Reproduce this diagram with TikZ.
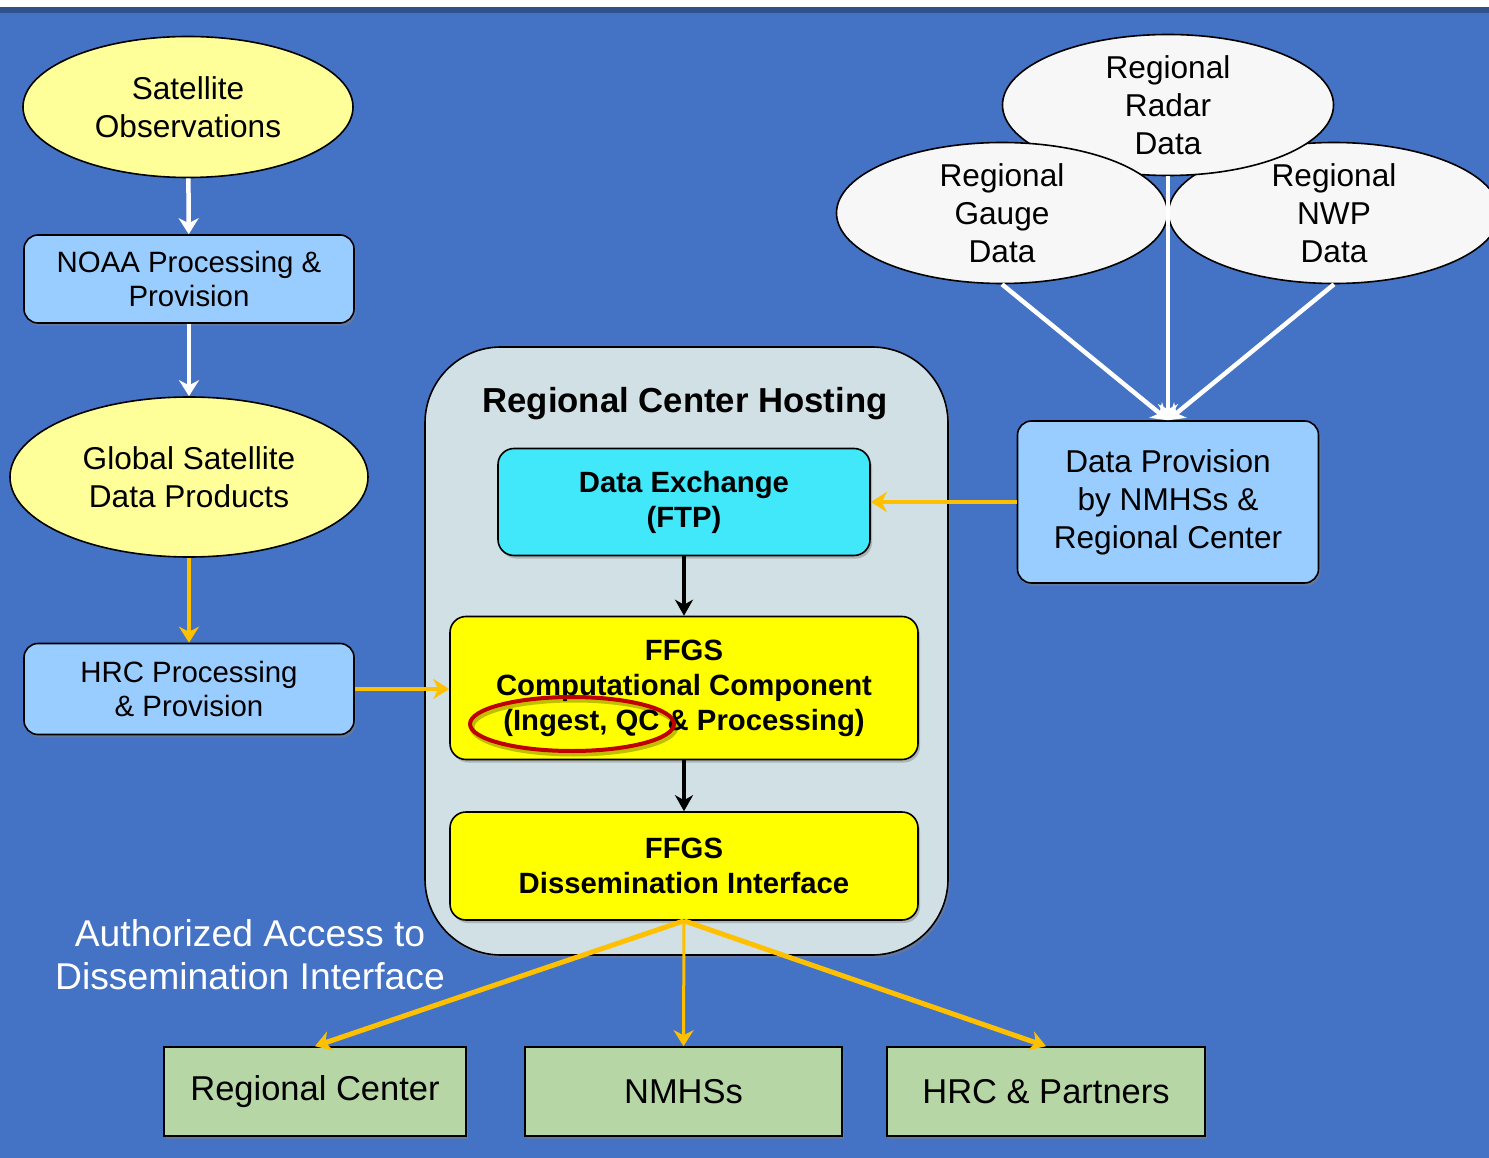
\documentclass[tikz,border=0pt]{standalone}
\usepackage{fontspec}
\setmainfont{Liberation Sans}
\usetikzlibrary{positioning,arrows.meta,shapes.geometric,shadows}
\definecolor{bgblue}{RGB}{68,114,196}
\definecolor{edgeblue}{RGB}{47,82,140}
\definecolor{satyellow}{RGB}{255,255,153}
\definecolor{procblue}{RGB}{153,204,255}
\definecolor{hostgray}{RGB}{209,224,228}
\definecolor{ftpcyan}{RGB}{64,232,250}
\definecolor{ffgsyellow}{RGB}{255,255,0}
\definecolor{flowgold}{RGB}{255,192,0}
\definecolor{usergreen}{RGB}{183,214,165}
\definecolor{datawhite}{RGB}{247,247,247}
\definecolor{markred}{RGB}{192,0,0}

\begin{document}
\begin{tikzpicture}[x=1pt,y=-1pt,
    softshadow/.style={drop shadow={opacity=0.45,shadow xshift=2pt,shadow yshift=-3pt}},
    satnode/.style={ellipse,draw,line width=1.6pt,fill=satyellow,inner sep=0pt,align=center,
        font=\fontsize{31.6}{38}\selectfont},
    datanode/.style={ellipse,draw,line width=1.6pt,fill=datawhite,inner sep=0pt,align=center,
        minimum width=331pt,minimum height=141pt,font=\fontsize{31.6}{38}\selectfont},
    procbox/.style={rectangle,rounded corners=14pt,draw,line width=1.6pt,fill=procblue,
        align=center,inner sep=0pt,font=\fontsize{29.4}{34}\selectfont,softshadow},
    hostbox/.style={rectangle,rounded corners=16pt,draw,line width=1.6pt,align=center,inner sep=0pt,
        font=\bfseries\fontsize{29.3}{35}\selectfont,softshadow},
    userbox/.style={rectangle,draw,line width=1.6pt,fill=usergreen,minimum height=89pt,
        inner sep=0pt,font=\fontsize{34.5}{40}\selectfont,softshadow},
    whiteflow/.style={white,line width=4.5pt,-{Stealth[length=16pt,width=20pt,inset=5pt]}},
    goldflow/.style={flowgold,line width=5pt,-{Stealth[length=16pt,width=20pt,inset=5pt]}},
    blackflow/.style={black,line width=4pt,-{Stealth[length=16pt,width=18pt,inset=5pt]}}]

% Background
\useasboundingbox (0,0) rectangle (1489,1158);
\fill[white] (0,0) rectangle (1489,7);
\fill[edgeblue] (0,7) rectangle (1489,13);
\fill[bgblue] (0,13) rectangle (1489,1158);

% Satellite chain
\node[satnode,minimum width=330pt,minimum height=141pt] (satobs) at (188,107) {Satellite\\Observations};
\node[procbox,minimum width=330pt,minimum height=88pt] (noaa) at (189,279) {NOAA Processing \&\\Provision};
\node[satnode,minimum width=358pt,minimum height=160pt] (globsat) at (189,477) {Global Satellite\\Data Products};
\node[procbox,minimum width=330pt,minimum height=91pt] (hrcproc) at (189,689) {HRC Processing\\\& Provision};

% Regional data
\node[datanode] (nwp) at (1334,213) {Regional\\NWP\\Data};
\node[datanode] (radar) at (1168,105) {Regional\\Radar\\Data};
\node[datanode] (gauge) at (1002,213) {Regional\\Gauge\\Data};
\node[procbox,minimum width=301pt,minimum height=162pt,font=\fontsize{31.6}{38}\selectfont] (provision) at (1168,502)
    {Data Provision\\by NMHSs \&\\Regional Center};

% Regional center hosting
\node[rectangle,rounded corners=76pt,draw,line width=1.6pt,fill=hostgray,minimum width=523pt,
    minimum height=608pt,softshadow] (hosting) at (686.5,651) {};
\node[font=\bfseries\fontsize{34.7}{40}\selectfont] (hosttitle) at (685,404) {Regional Center Hosting};
\node[hostbox,fill=ftpcyan,minimum width=372pt,minimum height=107pt] (ftp) at (684,502) {Data Exchange\\(FTP)};
\node[hostbox,fill=ffgsyellow,minimum width=468pt,minimum height=143pt] (compute) at (684,688)
    {FFGS\\Computational Component\\(Ingest, QC \& Processing)};
\node[hostbox,fill=ffgsyellow,minimum width=468pt,minimum height=108pt] (dissem) at (684,866)
    {FFGS\\Dissemination Interface};
\node[ellipse,draw=markred,line width=4pt,minimum width=204pt,minimum height=54pt,inner sep=0pt,
    preaction={draw=black,draw opacity=0.25,line width=5pt,transform canvas={shift={(2pt,-3pt)}}}]
    (qcmark) at (572,724) {};

% Users
\node[text=white,align=center,font=\fontsize{37.3}{43}\selectfont] (access) at (250,955)
    {Authorized Access to\\Dissemination Interface};
\node[userbox,minimum width=302pt] (regcenter) at (315,1091.5) {Regional Center};
\node[userbox,minimum width=317pt] (nmhs) at (683.5,1091.5) {NMHSs};
\node[userbox,minimum width=318pt] (partners) at (1046,1091.5) {HRC \& Partners};

% Connections
\draw[whiteflow] (satobs) -- (noaa);
\draw[whiteflow] (noaa) -- (globsat);
\draw[goldflow,line width=4pt] (globsat) -- (hrcproc);
\draw[goldflow,line width=4pt] (hrcproc.east) -- (hrcproc.east -| compute.west);
\draw[whiteflow] (gauge.south) -- (provision.north);
\draw[whiteflow] (radar.south) -- (provision.north);
\draw[whiteflow] (nwp.south) -- (provision.north);
\draw[goldflow,line width=4pt] (provision.west) -- (ftp.east);
\draw[blackflow] (ftp) -- (compute);
\draw[blackflow] (compute) -- (dissem);
\draw[goldflow] (dissem.south) -- (regcenter.north);
\draw[goldflow,line width=3pt] (dissem.south) -- (nmhs.north);
\draw[goldflow] (dissem.south) -- (partners.north);
\end{tikzpicture}
\end{document}
